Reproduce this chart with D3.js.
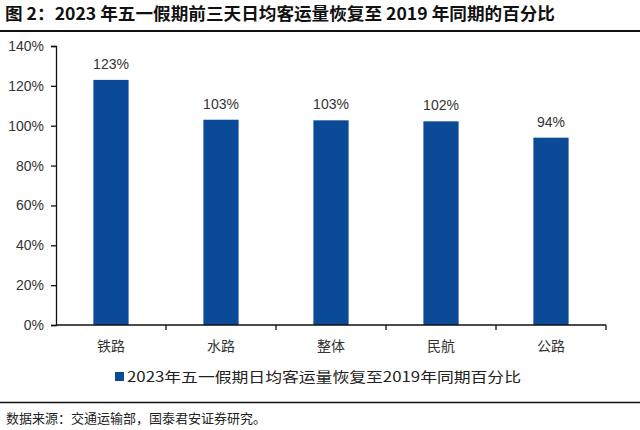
<!DOCTYPE html>
<html lang="zh">
<head>
<meta charset="utf-8">
<title>五一客运量恢复</title>
<script src="https://d3js.org/d3.v7.min.js"></script>
<style>
  body { margin: 0; background: #fff; }
  svg text { font-family: "Liberation Sans", Arial, "Noto Sans CJK SC", sans-serif; }
  .cjk { font-family: "Noto Sans CJK SC", sans-serif !important; }
</style>
</head>
<body>
<div id="chart"></div>
<script>
var categories = ["铁路", "水路", "整体", "民航", "公路"]
var values = [1.23, 1.03, 1.027, 1.022, 0.94]
var yTicks = [0, 0.2, 0.4, 0.6, 0.8, 1.0, 1.2, 1.4]
var seriesName = "2023年五一假期日均客运量恢复至2019年同期百分比"
var title = "图 2：2023 年五一假期前三天日均客运量恢复至 2019 年同期的百分比"
var source = "数据来源：交通运输部，国泰君安证券研究。"

var W = 640, H = 430
var m = {left: 56, right: 34, top: 46, bottom: 105}
var barColor = "#0b4a96"

var svg = d3.select("#chart").append("svg")
  .attr("width", W).attr("height", H)

// title + rule
svg.append("text").attr("class", "cjk")
  .attr("x", 5).attr("y", 20)
  .attr("font-size", 17).attr("font-weight", "bold")
  .attr("fill", "#111")
  .attr("textLength", 550).attr("lengthAdjust", "spacingAndGlyphs")
  .text(title)
svg.append("line").attr("x1", 0).attr("x2", W).attr("y1", 31).attr("y2", 31)
  .attr("stroke", "#111").attr("stroke-width", 2)

var x = d3.scaleBand().domain(categories).range([m.left, W - m.right]).paddingInner(0.68).paddingOuter(0.34)
var y = d3.scaleLinear().domain([0, 1.4]).range([H - m.bottom, m.top])

var g = svg.append("g")

g.selectAll("rect.bar").data(values).join("rect")
  .attr("class", "bar")
  .attr("x", function(d, i){ return x(categories[i]) })
  .attr("width", x.bandwidth())
  .attr("y", function(d){ return y(d) })
  .attr("height", function(d){ return y(0) - y(d) })
  .attr("fill", barColor)

g.selectAll("text.lbl").data(values).join("text")
  .attr("class", "lbl")
  .attr("x", function(d, i){ return x(categories[i]) + x.bandwidth() / 2 })
  .attr("y", function(d){ return y(d) - 11 })
  .attr("text-anchor", "middle")
  .attr("font-size", 14).attr("fill", "#333")
  .text(function(d){ return d3.format(".0%")(d) })

// y axis
var yAxis = svg.append("g").attr("transform", "translate(" + m.left + ",0)")
  .call(d3.axisLeft(y).tickValues(yTicks).tickFormat(d3.format(".0%")).tickSize(5).tickPadding(7))
yAxis.select(".domain").attr("stroke", "#111").attr("stroke-width", 1.3)
yAxis.selectAll(".tick line").attr("stroke", "#111").attr("stroke-width", 1.3)
yAxis.selectAll("text").attr("font-size", 14).attr("fill", "#333")
  .attr("font-family", "'Liberation Sans', Arial, sans-serif")

// x axis with ticks at band boundaries
var xAxisG = svg.append("g").attr("transform", "translate(0," + y(0) + ")")
xAxisG.append("line").attr("x1", m.left).attr("x2", W - m.right)
  .attr("stroke", "#111").attr("stroke-width", 1.3)
var step = x.step()
var bounds = categories.map(function(c){ return x(c) - x.paddingOuter() * step + step })
xAxisG.selectAll("line.tk").data(bounds).join("line").attr("class", "tk")
  .attr("x1", function(d){ return d }).attr("x2", function(d){ return d })
  .attr("y1", 0).attr("y2", 5).attr("stroke", "#111").attr("stroke-width", 1.3)
xAxisG.selectAll("text").data(categories).join("text").attr("class", "cjk")
  .attr("x", function(d){ return x(d) + x.bandwidth() / 2 })
  .attr("y", 26).attr("text-anchor", "middle")
  .attr("font-size", 14).attr("fill", "#333")
  .text(function(d){ return d })

// legend
var lg = svg.append("g").attr("transform", "translate(115,377)")
lg.append("rect").attr("x", 0).attr("y", -5).attr("width", 9).attr("height", 9).attr("fill", barColor)
lg.append("text").attr("class", "cjk").attr("x", 12).attr("y", 0).attr("dy", "0.35em")
  .attr("font-size", 14).attr("fill", "#222")
  .attr("textLength", 394).attr("lengthAdjust", "spacingAndGlyphs")
  .text(seriesName)

// bottom rule + source
svg.append("line").attr("x1", 0).attr("x2", W).attr("y1", 402.5).attr("y2", 402.5)
  .attr("stroke", "#111").attr("stroke-width", 1.3)
svg.append("text").attr("class", "cjk")
  .attr("x", 6).attr("y", 418).attr("dy", "0.35em")
  .attr("font-size", 13).attr("fill", "#222")
  .text(source)
</script>
</body>
</html>
